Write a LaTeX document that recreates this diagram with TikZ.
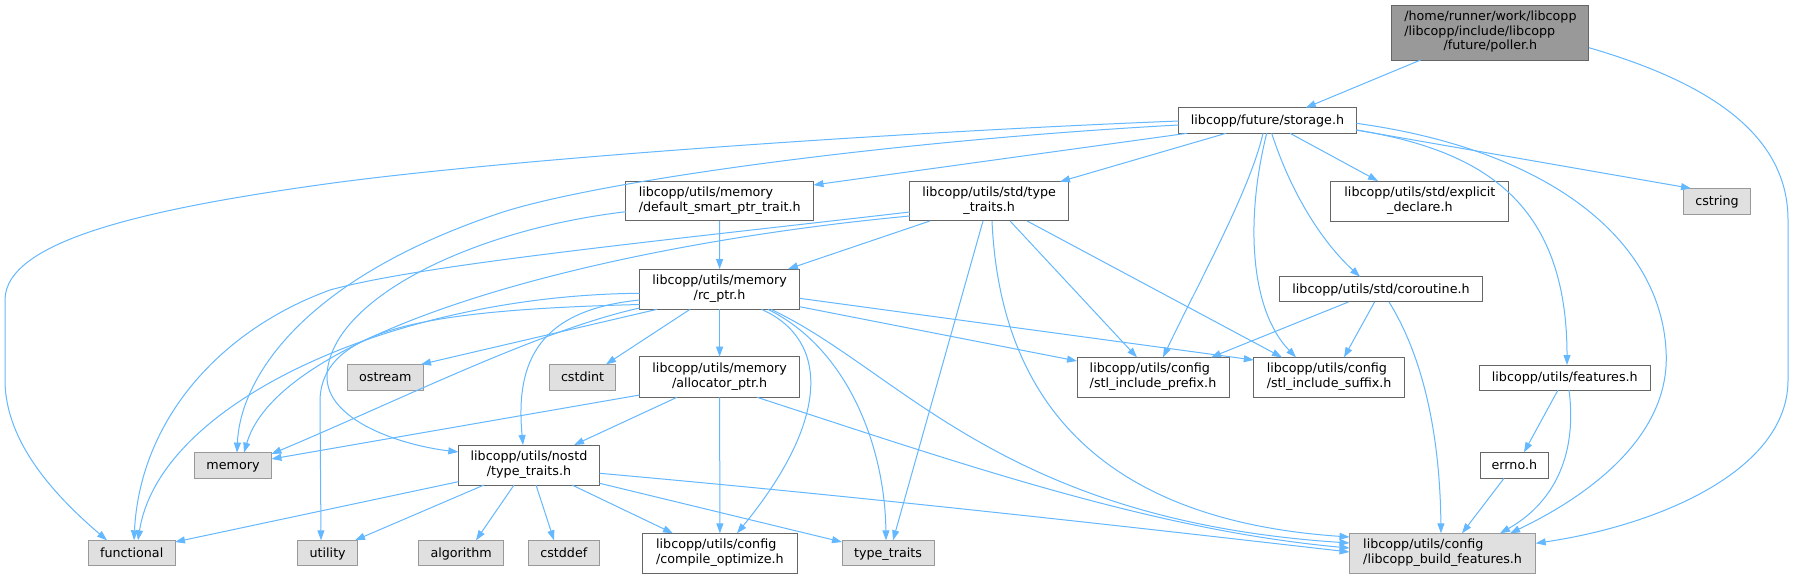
\documentclass[tikz,border=0pt]{standalone}
\usepackage{fontspec}
\setmainfont{DejaVu Sans}
\usetikzlibrary{arrows.meta}
\definecolor{edgeblue}{HTML}{63B8FF}
\definecolor{boxborder}{HTML}{666666}
\definecolor{extborder}{HTML}{999999}
\definecolor{extfill}{HTML}{E0E0E0}
\definecolor{mainfill}{HTML}{999999}
\newcommand{\twolines}[2]{\begin{tabular}{@{}l@{}}#1\\\multicolumn{1}{@{}c@{}}{#2}\end{tabular}}
\begin{document}
\begin{tikzpicture}[x=1pt,y=-1pt,
  every node/.style={font=\fontsize{12.7}{14.5}\selectfont, inner sep=0pt, outer sep=0pt},
  filebox/.style={draw=boxborder, fill=white, line width=1pt, rectangle},
  extbox/.style={draw=extborder, fill=extfill, line width=1pt, rectangle},
  mainbox/.style={draw=boxborder, fill=mainfill, line width=1pt, rectangle},
  oneline/.style={text height=10pt, text depth=2pt},
  edge/.style={draw=edgeblue, line width=1pt, -{Triangle[length=10pt,width=7pt]}},
]
\fill[white] (0,0) rectangle (1793,579);
\useasboundingbox (0,0) rectangle (1793,579);

% nodes
\node[mainbox, minimum width=197pt, minimum height=55pt] (poller) at (1490.4,32.5)
  {\begin{tabular}{@{}l@{}}/home/runner/work/libcopp\\/libcopp/include/libcopp\\\multicolumn{1}{@{}c@{}}{/future/poller.h}\end{tabular}};
\node[filebox, oneline, minimum width=177.6pt, minimum height=25.6pt] (storage) at (1267.5,120.5) {libcopp/future/storage.h};
\node[filebox, minimum width=187.5pt, minimum height=39.3pt] (dsp) at (719.7,201.3) {\twolines{libcopp/utils/memory}{/default\_smart\_ptr\_trait.h}};
\node[filebox, minimum width=158.8pt, minimum height=39.3pt] (stdtt) at (989.2,201.3) {\twolines{libcopp/utils/std/type}{\_traits.h}};
\node[filebox, minimum width=178pt, minimum height=40pt] (explicit) at (1419.9,201) {\twolines{libcopp/utils/std/explicit}{\_declare.h}};
\node[extbox, oneline, minimum width=67.4pt, minimum height=25.7pt] (cstring) at (1717,201.2) {cstring};
\node[filebox, minimum width=160pt, minimum height=40.3pt] (rcptr) at (719.6,289.2) {\twolines{libcopp/utils/memory}{/rc\_ptr.h}};
\node[filebox, oneline, minimum width=203.3pt, minimum height=25.3pt] (coroutine) at (1381,289.3) {libcopp/utils/std/coroutine.h};
\node[extbox, oneline, minimum width=76pt, minimum height=25.7pt] (ostream) at (385.3,377.2) {ostream};
\node[extbox, oneline, minimum width=66.4pt, minimum height=25.7pt] (cstdint) at (582.6,377.2) {cstdint};
\node[filebox, minimum width=160pt, minimum height=40.6pt] (alloc) at (719.6,377) {\twolines{libcopp/utils/memory}{/allocator\_ptr.h}};
\node[filebox, minimum width=152pt, minimum height=39.7pt] (prefix) at (1153,377.2) {\twolines{libcopp/utils/config}{/stl\_include\_prefix.h}};
\node[filebox, minimum width=150.6pt, minimum height=39.7pt] (suffix) at (1329.1,377.2) {\twolines{libcopp/utils/config}{/stl\_include\_suffix.h}};
\node[filebox, oneline, minimum width=171pt, minimum height=25pt] (features) at (1564.8,377.5) {libcopp/utils/features.h};
\node[extbox, oneline, minimum width=76.8pt, minimum height=25.4pt] (memory) at (233,465.3) {memory};
\node[filebox, minimum width=141.4pt, minimum height=40pt] (nostd) at (529,465) {\twolines{libcopp/utils/nostd}{/type\_traits.h}};
\node[filebox, oneline, minimum width=68.2pt, minimum height=26pt] (errno) at (1514.4,465.3) {errno.h};
\node[extbox, oneline, minimum width=86.6pt, minimum height=25.4pt] (functional) at (131.7,553) {functional};
\node[extbox, oneline, minimum width=59.8pt, minimum height=25.4pt] (utility) at (327.7,553) {utility};
\node[extbox, oneline, minimum width=84.8pt, minimum height=25.4pt] (algorithm) at (461.2,553) {algorithm};
\node[extbox, oneline, minimum width=70.6pt, minimum height=25.4pt] (cstddef) at (563.8,553) {cstddef};
\node[filebox, minimum width=155pt, minimum height=40pt] (compopt) at (719.9,553.3) {\twolines{libcopp/utils/config}{/compile\_optimize.h}};
\node[extbox, oneline, minimum width=92pt, minimum height=25.4pt] (typetraits) at (888,553) {type\_traits};
\node[extbox, minimum width=186.2pt, minimum height=40pt] (lbf) at (1442.6,553.3) {\twolines{libcopp/utils/config}{/libcopp\_build\_features.h}};

% poller
\draw[edge] (poller.south -| 1420.6,0) -- (storage.north -| 1305.8,0);
\draw[edge] (poller.east |- 0,47.7) .. controls (1700,80) and (1788,130) .. (1788,220) -- (1788,380) .. controls (1788,470) and (1660,525) .. (lbf.east |- 0,543.3);

% storage
\draw[edge] (storage.west |- 0,121) .. controls (900,132) and (520,158) .. (333,183) .. controls (150,208) and (5,240) .. (5,300) -- (5,380) .. controls (5,445) and (60,500) .. (functional.north -| 107,0);
\draw[edge] (storage.west |- 0,125) .. controls (900,140) and (600,180) .. (500,213) .. controls (300,280) and (240,380) .. (memory.north -| 237,0);
\draw[edge] (storage.south -| 1187,0) -- (dsp.east |- 0,185);
\draw[edge] (storage.south -| 1226,0) -- (stdtt.north -| 1060,0);
\draw[edge] (storage.south -| 1290,0) -- (explicit.north -| 1378,0);
\draw[edge] (storage.south -| 1271.7,0) .. controls (1290,190) and (1320,240) .. (coroutine.north -| 1360,0);
\draw[edge] (storage.south -| 1263,0) .. controls (1250,190) and (1200,280) .. (prefix.north -| 1163,0);
\draw[edge] (storage.south -| 1266.7,0) .. controls (1245,220) and (1250,310) .. (suffix.north -| 1296,0);
\draw[edge] (storage.east |- 0,130) .. controls (1480,150) and (1567,200) .. (features.north -| 1567,0);
\draw[edge] (storage.east |- 0,123.3) .. controls (1550,150) and (1660,240) .. (1666,350) .. controls (1672,440) and (1580,500) .. (lbf.north -| 1510,0);
\draw[edge] (storage.east |- 0,130) -- (cstring.north -| 1691,0);

% std/type_traits
\draw[edge] (stdtt.west |- 0,212) .. controls (650,242) and (420,265) .. (330,290) .. controls (220,330) and (140,420) .. (functional.north -| 134,0);
\draw[edge] (stdtt.west |- 0,216) .. controls (600,245) and (280,330) .. (memory.north -| 244,0);
\draw[edge] (stdtt.south -| 930,0) -- (rcptr.north -| 788,0);
\draw[edge] (stdtt.south -| 983,0) -- (typetraits.north -| 893,0);
\draw[edge] (stdtt.south -| 1010,0) -- (prefix.north -| 1137,0);
\draw[edge] (stdtt.south -| 1027,0) -- (suffix.north -| 1282,0);
\draw[edge] (stdtt.south -| 992,0) .. controls (1000,400) and (1100,520) .. (lbf.west |- 0,537);

% default_smart_ptr_trait
\draw[edge] (dsp.south) -- (rcptr.north);
\draw[edge] (dsp.west |- 0,211.7) .. controls (470,230) and (330,300) .. (327,375) .. controls (325,420) and (400,445) .. (nostd.west |- 0,452);

% rc_ptr
\draw[edge] (rcptr.west |- 0,293.3) .. controls (400,295) and (160,400) .. (functional.north -| 138,0);
\draw[edge] (rcptr.west |- 0,300) .. controls (540,310) and (515,360) .. (nostd.north -| 523,0);
\draw[edge] (rcptr.west |- 0,304.5) .. controls (420,310) and (322,330) .. (320,400) -- (utility.north -| 321,0);
\draw[edge] (rcptr.west |- 0,308) .. controls (540,330) and (400,400) .. (memory.east |- 0,454);
\draw[edge] (rcptr.south -| 657,0) -- (ostream.north -| 421,0);
\draw[edge] (rcptr.south -| 690,0) -- (cstdint.north -| 606,0);
\draw[edge] (rcptr.south) -- (alloc.north);
\draw[edge] (rcptr.south -| 761.6,0) .. controls (830,340) and (830,420) .. (compopt.north -| 737,0);
\draw[edge] (rcptr.south -| 768,0) .. controls (850,350) and (885,450) .. (typetraits.north -| 886,0);
\draw[edge] (rcptr.south -| 771,0) .. controls (900,370) and (1000,520) .. (lbf.west |- 0,543);
\draw[edge] (rcptr.east |- 0,306.7) -- (prefix.west |- 0,361);
\draw[edge] (rcptr.east |- 0,298.3) -- (suffix.west |- 0,360);

% allocator_ptr
\draw[edge] (alloc.west |- 0,395) -- (memory.east |- 0,459);
\draw[edge] (alloc.south -| 677,0) -- (nostd.north -| 574,0);
\draw[edge] (alloc.south) -- (compopt.north);
\draw[edge] (alloc.south -| 757,0) .. controls (950,460) and (1150,530) .. (lbf.west |- 0,548);

% nostd/type_traits
\draw[edge] (nostd.west |- 0,481.7) -- (functional.east |- 0,542);
\draw[edge] (nostd.south -| 484,0) -- (utility.north -| 355,0);
\draw[edge] (nostd.south -| 514,0) -- (algorithm.north -| 476,0);
\draw[edge] (nostd.south -| 536,0) -- (cstddef.north -| 554,0);
\draw[edge] (nostd.south -| 572,0) -- (compopt.north -| 673,0);
\draw[edge] (nostd.east |- 0,483.3) -- (typetraits.west |- 0,542);
\draw[edge] (nostd.east |- 0,473.3) .. controls (900,500) and (1200,535) .. (lbf.west |- 0,552);

% coroutine
\draw[edge] (coroutine.south -| 1348.5,0) -- (prefix.north -| 1211,0);
\draw[edge] (coroutine.south -| 1374.6,0) -- (suffix.north -| 1344,0);
\draw[edge] (coroutine.south -| 1389,0) .. controls (1425,360) and (1440,440) .. (lbf.north -| 1441,0);

% features / errno
\draw[edge] (features.south -| 1558,0) -- (errno.north -| 1524,0);
\draw[edge] (features.south -| 1569,0) .. controls (1578,460) and (1550,505) .. (lbf.north -| 1500,0);
\draw[edge] (errno.south -| 1504,0) -- (lbf.north -| 1462,0);
\end{tikzpicture}
\end{document}
